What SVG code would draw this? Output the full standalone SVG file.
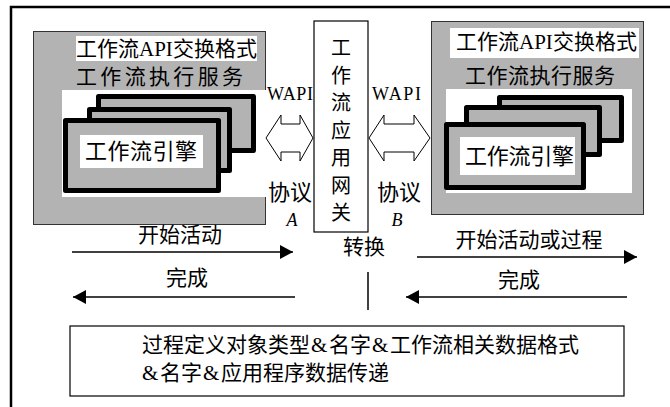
<svg xmlns="http://www.w3.org/2000/svg" width="670" height="407" viewBox="0 0 670 407">
<defs>
<style>
.cjk{font-family:"Noto Sans CJK SC","Noto Sans",sans-serif;fill:#000}
.ser{font-family:"Liberation Serif","Noto Sans CJK SC",serif;fill:#000}
.gray{fill:#b3b3b3;stroke:#333;stroke-width:1}
.card{fill:#b3b3b3;stroke:#000;stroke-width:5;stroke-linejoin:round}
.wht{fill:#fff}
.box{fill:#fff;stroke:#000;stroke-width:1.2}
.ln{stroke:#000;stroke-width:1.5;fill:none}
.dbl{fill:#fff;stroke:#000;stroke-width:1}
</style>
<marker id="ah" markerWidth="14" markerHeight="14" refX="13" refY="7" orient="auto" markerUnits="userSpaceOnUse">
<path d="M0,0 L13,7 L0,14 Z" fill="#000"/>
</marker>
</defs>
<rect width="670" height="407" fill="#fff"/>
<path d="M11,407 V7 H670" fill="none" stroke="#000" stroke-width="2.5"/>

<g id="left-service">
<rect class="gray" x="33.5" y="31.5" width="232" height="193"/>
<rect class="wht" x="76" y="36" width="181" height="25"/>
<text class="cjk" x="76" y="56" font-size="21">工作流</text>
<text class="ser" x="139" y="56" font-size="21">API</text>
<text class="cjk" x="173" y="56" font-size="21">交换格式</text>
<text class="cjk" x="76" y="84" font-size="21" textLength="167" lengthAdjust="spacing">工作流执行服务</text>
<rect class="wht" x="62" y="90" width="204" height="107"/>
<rect class="card" x="98.5" y="96.5" width="155" height="54"/>
<rect class="card" x="89.5" y="109.5" width="140" height="61"/>
<rect class="card" x="65.5" y="120.5" width="153" height="70"/>
<rect class="wht" x="80" y="135" width="123" height="33"/>
<text class="cjk" x="85" y="159" font-size="22" textLength="112" lengthAdjust="spacing">工作流引擎</text>
</g>

<g id="right-service">
<rect class="gray" x="431.5" y="21.5" width="212" height="193"/>
<rect class="wht" x="450" y="28" width="189" height="30"/>
<text class="cjk" x="456" y="49" font-size="21">工作流</text>
<text class="ser" x="519" y="49" font-size="21">API</text>
<text class="cjk" x="553" y="49" font-size="21">交换格式</text>
<text class="cjk" x="465" y="83" font-size="21" textLength="150" lengthAdjust="spacing">工作流执行服务</text>
<rect class="wht" x="446" y="89" width="186" height="104"/>
<rect class="card" x="499.5" y="97.5" width="122" height="43"/>
<rect class="card" x="466.5" y="107.5" width="133" height="47"/>
<rect class="card" x="446.5" y="124.5" width="137" height="63"/>
<rect class="wht" x="460" y="137" width="115" height="38"/>
<text class="cjk" x="465" y="164" font-size="22" textLength="109" lengthAdjust="spacing">工作流引擎</text>
</g>

<g id="gateway">
<rect class="box" x="314" y="21" width="54" height="211"/>
<g class="cjk" font-size="20" text-anchor="middle">
<text x="341" y="55">工</text>
<text x="341" y="82.5">作</text>
<text x="341" y="110">流</text>
<text x="341" y="137.5">应</text>
<text x="341" y="165">用</text>
<text x="341" y="192.5">网</text>
<text x="341" y="220">关</text>
</g>
</g>

<g id="protocol-a">
<text class="ser" x="267" y="100" font-size="18" textLength="46">WAPI</text>
<path class="dbl" d="M266,138 L281,115 L281,124 L300,124 L300,115 L313,138 L300,161 L300,152 L281,152 L281,161 Z"/>
<text class="cjk" x="268" y="200" font-size="22">协议</text>
<text class="ser" x="292" y="226" font-size="18" font-style="italic" text-anchor="middle">A</text>
</g>

<g id="protocol-b">
<text class="ser" x="372" y="100" font-size="18" textLength="49">WAPI</text>
<path class="dbl" d="M369,138 L384,115 L384,124 L414,124 L414,115 L430,138 L414,161 L414,152 L384,152 L384,161 Z"/>
<text class="cjk" x="377" y="200" font-size="22">协议</text>
<text class="ser" x="397" y="226" font-size="18" font-style="italic" text-anchor="middle">B</text>
</g>

<g id="connectors">
<line class="ln" x1="72" y1="252" x2="293" y2="252" marker-end="url(#ah)"/>
<line class="ln" x1="295" y1="297" x2="73" y2="297" marker-end="url(#ah)"/>
<line class="ln" x1="417" y1="257" x2="637" y2="257" marker-end="url(#ah)"/>
<line class="ln" x1="627" y1="297" x2="406" y2="297" marker-end="url(#ah)"/>
<line class="ln" x1="368" y1="272" x2="368" y2="310"/>
</g>

<g id="labels">
<text class="cjk" x="180" y="242" font-size="21" text-anchor="middle">开始活动</text>
<text class="cjk" x="187" y="285" font-size="21" text-anchor="middle">完成</text>
<text class="cjk" x="364" y="254" font-size="21" text-anchor="middle">转换</text>
<text class="cjk" x="529" y="247" font-size="21" text-anchor="middle">开始活动或过程</text>
<text class="cjk" x="519" y="287" font-size="21" text-anchor="middle">完成</text>
</g>

<g id="data-box">
<rect class="box" x="70" y="326" width="554" height="70"/>
<text class="cjk" x="142" y="352" font-size="21">过程定义对象类型</text>
<text class="ser" x="311" y="352" font-size="21">&amp;</text>
<text class="cjk" x="329" y="352" font-size="21">名字</text>
<text class="ser" x="372" y="352" font-size="21">&amp;</text>
<text class="cjk" x="390" y="352" font-size="21">工作流相关数据格式</text>
<text class="ser" x="142" y="380" font-size="21">&amp;</text>
<text class="cjk" x="160" y="380" font-size="21">名字</text>
<text class="ser" x="203" y="380" font-size="21">&amp;</text>
<text class="cjk" x="221" y="380" font-size="21">应用程序数据传递</text>
</g>
</svg>
